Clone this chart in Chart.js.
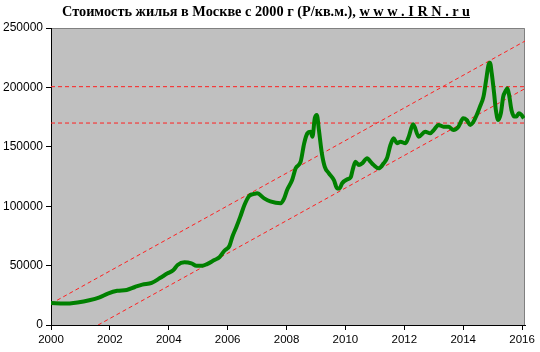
<!DOCTYPE html>
<html>
<head>
<meta charset="utf-8">
<script src="https://cdn.jsdelivr.net/npm/chart.js@4"></script>
<style>
    html, body { margin: 0; padding: 0; background: #fff; }
    #wrap { position: relative; width: 540px; height: 352px; }
    #title {
        position: absolute; left: 0; top: 3px; width: 532px; text-align: center;
        font: bold 14.3px "Liberation Serif", "Times New Roman", serif; color: #000;
    }
    #title span { text-decoration: underline; }
</style>
</head>
<body>
<div id="wrap">
    <div id="title">Стоимость жилья в Москве с 2000 г (Р/кв.м.), <span>w w w . I R N . r u</span></div>
    <canvas id="priceChart" width="540" height="352"></canvas>
</div>
<script>
// price of housing, rub per sq.m
const dates = [
    2000.0, 2000.45, 2000.9, 2001.3, 2001.65, 2001.93, 2002.25, 2002.57, 2002.85, 2003.1,
    2003.42, 2003.7, 2003.96, 2004.15, 2004.3, 2004.53, 2004.77, 2004.94, 2005.14, 2005.3,
    2005.55, 2005.72, 2005.89, 2006.06, 2006.16, 2006.3, 2006.43, 2006.57, 2006.73, 2006.9,
    2007.0, 2007.24, 2007.45, 2007.8, 2007.92, 2008.02, 2008.19, 2008.31, 2008.48, 2008.6,
    2008.71, 2008.82, 2008.88, 2008.96, 2009.03, 2009.1, 2009.2, 2009.3, 2009.44, 2009.61,
    2009.72, 2009.8, 2009.89, 2010.06, 2010.18, 2010.25, 2010.34, 2010.46, 2010.57, 2010.74,
    2010.85, 2010.96, 2011.13, 2011.3, 2011.41, 2011.53, 2011.64, 2011.75, 2011.87, 2012.04,
    2012.15, 2012.3, 2012.49, 2012.71, 2012.88, 2013.0, 2013.16, 2013.33, 2013.5, 2013.67,
    2013.84, 2014.0, 2014.12, 2014.24, 2014.35, 2014.46, 2014.57, 2014.69, 2014.78, 2014.86,
    2014.91, 2014.97, 2015.05, 2015.11, 2015.19, 2015.28, 2015.36, 2015.43, 2015.5, 2015.56,
    2015.64, 2015.74, 2015.81, 2015.89, 2015.98, 2016.06
];
const prices = [
    18500, 18000, 19000, 20800, 23300, 26500, 28800, 29500, 32000, 34000,
    35500, 39500, 43500, 46000, 50500, 52800, 51900, 49900, 49900, 51300,
    54700, 57000, 62500, 66500, 74300, 82700, 91200, 101000, 108600, 110300,
    110900, 106600, 104000, 102400, 106600, 113600, 122000, 131900, 137500, 153000,
    161400, 162700, 158500, 174000, 176800, 164100, 144500, 133200, 127700, 122000,
    115000, 115000, 119300, 122600, 124300, 131000, 137500, 134700, 136100, 140300,
    137500, 134700, 131900, 136100, 140300, 151500, 157100, 153000, 154300, 153000,
    158500, 169000, 158500, 162700, 161400, 164100, 168400, 166900, 166900, 164100,
    166900, 174000, 172600, 168400, 171100, 176800, 183800, 192200, 206200, 218900,
    220800, 211900, 195000, 181000, 172600, 178200, 192200, 196400, 199200, 193600,
    181000, 175400, 175400, 178200, 176800, 174000
];

// dashed guide lines
const upperTrendDates = [2000, 2016.1];
const upperTrend = [18000, 239000];
const lowerTrendDates = [2001.6, 2016.1];
const lowerTrend = [0, 199000];
const levelDates = [2000, 2016.1];
const highLevel = 200600;
const lowLevel = 170000;

const yTicks = [0, 50000, 100000, 150000, 200000, 250000];
const xTicks = [2000, 2002, 2004, 2006, 2008, 2010, 2012, 2014, 2016];

function pts(xs, ys) {
    return xs.map((x, i) => ({ x: x, y: ys[i] }));
}

function guide(data) {
    return {
        data: data,
        borderColor: '#ff2020',
        borderWidth: 1,
        borderDash: [4, 3],
        pointRadius: 0,
        order: 2
    };
}

const plotBackground = {
    id: 'plotBackground',
    beforeDraw(chart) {
        const a = chart.chartArea;
        const ctx = chart.ctx;
        ctx.save();
        ctx.fillStyle = '#c0c0c0';
        ctx.fillRect(a.left, a.top, a.right - a.left, a.bottom - a.top);
        ctx.strokeStyle = '#808080';
        ctx.lineWidth = 1;
        ctx.beginPath();
        ctx.moveTo(a.left, a.top + 0.5);
        ctx.lineTo(a.right - 0.5, a.top + 0.5);
        ctx.lineTo(a.right - 0.5, a.bottom);
        ctx.stroke();
        ctx.restore();
    }
};

const ctx = document.getElementById('priceChart').getContext('2d');
new Chart(ctx, {
    type: 'line',
    data: {
        datasets: [
            {
                data: pts(dates, prices),
                borderColor: '#008000',
                borderWidth: 4,
                pointRadius: 0,
                cubicInterpolationMode: 'monotone',
                order: 1
            },
            guide(pts(upperTrendDates, upperTrend)),
            guide(pts(lowerTrendDates, lowerTrend)),
            guide(pts(levelDates, [highLevel, highLevel])),
            guide(pts(levelDates, [lowLevel, lowLevel]))
        ]
    },
    options: {
        responsive: false,
        animation: false,
        layout: { padding: { top: 28, right: 15, bottom: 0, left: 0 } },
        plugins: {
            legend: { display: false },
            tooltip: { enabled: false },
            title: { display: false }
        },
        scales: {
            x: {
                type: 'linear',
                min: 2000,
                max: 2016.1,
                afterBuildTicks: scale => { scale.ticks = xTicks.map(v => ({ value: v })); },
                afterFit: scale => { scale.height = 27; },
                grid: { drawOnChartArea: false, color: '#000', tickLength: 5 },
                border: { color: '#000', width: 1 },
                ticks: {
                    color: '#000',
                    font: { family: 'Liberation Sans', size: 11.5 },
                    maxRotation: 0,
                    padding: 3,
                    callback: v => String(v)
                }
            },
            y: {
                min: 0,
                max: 250000,
                afterBuildTicks: scale => { scale.ticks = yTicks.map(v => ({ value: v })); },
                afterFit: scale => { scale.width = 51; },
                grid: { drawOnChartArea: false, color: '#000', tickLength: 5 },
                border: { color: '#000', width: 1 },
                ticks: {
                    color: '#000',
                    font: { family: 'Liberation Sans', size: 12 },
                    padding: 3,
                    callback: v => String(v)
                }
            }
        }
    },
    plugins: [plotBackground]
});
</script>
</body>
</html>
